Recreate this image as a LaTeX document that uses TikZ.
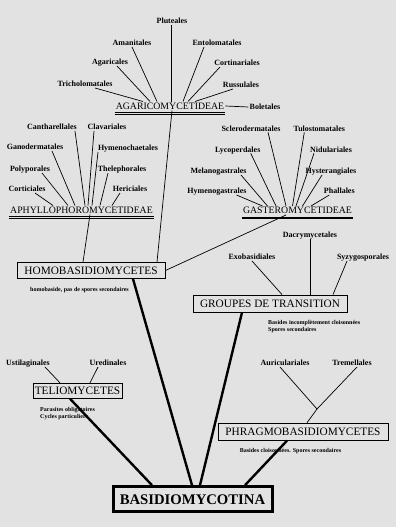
\documentclass[tikz,border=0pt]{standalone}
\usepackage{fontspec}
\setmainfont{Liberation Serif}
\definecolor{paper}{RGB}{226,226,226}
\tikzset{
  order/.style={font=\bfseries\fontsize{8}{9}\selectfont, inner sep=1pt, text height=5.6pt, text depth=0pt},
  subclass/.style={font=\fontsize{9.8}{11}\selectfont, inner sep=1pt, text height=6.6pt, text depth=0pt},
  classbox/.style={draw, line width=0.9pt, font=\fontsize{11.3}{13}\selectfont, inner sep=0pt},
  note/.style={font=\bfseries\fontsize{6}{6.8}\selectfont, align=left, inner sep=0pt},
  branch/.style={line width=0.7pt},
  trunk/.style={line width=2.4pt},
}
\newcommand\twinrule[1]{%
  \draw[line width=0.6pt] ([yshift=-1.8pt]#1.south west) -- ([yshift=-1.8pt]#1.south east);
  \draw[line width=0.6pt] ([yshift=-3.6pt]#1.south west) -- ([yshift=-3.6pt]#1.south east);}
\begin{document}
\begin{tikzpicture}[x=1pt,y=-1pt]
\fill[paper] (0,0) rectangle (396,527);
\useasboundingbox (0,0) rectangle (396,527);
% subclasses
\node[subclass] (agar) at (170,106) {AGARICOMYCETIDEAE};
\node[subclass] (aphy) at (81.5,210) {APHYLLOPHOROMYCETIDEAE};
\node[subclass] (gast) at (297.5,210.5) {GASTEROMYCETIDEAE};
\twinrule{agar}
\twinrule{aphy}
\twinrule{gast}
% classes
\node[classbox, minimum width=148, minimum height=16] (homo) at (91,270.5) {HOMOBASIDIOMYCETES};
\node[classbox, minimum width=154, minimum height=17] (groupes) at (270,303.5) {GROUPES DE TRANSITION};
\node[classbox, minimum width=89, minimum height=15] (telio) at (77.5,390.8) {TELIOMYCETES};
\node[classbox, minimum width=170, minimum height=17] (phrag) at (303,431.7) {PHRAGMOBASIDIOMYCETES};
\node[draw, line width=3pt, minimum width=159, minimum height=25, inner sep=0pt,
  font=\bfseries\fontsize{14.7}{16}\selectfont] (basid) at (192.5,499.2) {BASIDIOMYCOTINA};
% notes
\node[note, anchor=west] (homonote) at (30,290) {homobaside, pas de spores secondaires};
\node[note, anchor=north west] (groupesnote) at (268,320.5) {Basides incompl\`etement cloisonn\'ees\\Spores secondaires};
\node[note, anchor=north west] (telionote) at (40,407.5) {Parasites obligatoires\\Cycles particuliers};
\node[note] (phragnote) at (290.5,451) {Basides cloisonn\'ees. Spores secondaires};
% orders of the Agaricomycetideae
\foreach \name/\lx/\ly/\sx/\tx in {Tricholomatales/85/84/10/-27, Agaricales/110/62/7/-20,
    Amanitales/132/43/0/-13, Pluteales/172/21/-1/1, Entolomatales/217/43/-13/13,
    Cortinariales/237/63/-17/18, Russulales/241/85/-8/25} {
  \node[order] (\name) at (\lx,\ly) {\name};
  \draw[branch] ([xshift=\sx pt]\name.south) -- ([xshift=\tx pt]agar.north);
}
\node[order] (Boletales) at (265,107) {Boletales};
\draw[branch] (agar.east) -- (Boletales.west);
% orders of the Aphyllophoromycetideae
\foreach \name/\lx/\ly/\sx/\tx in {Corticiales/27/189/8/-28.5, Polyporales/30/169/12/-13.5,
    Ganodermatales/35/147/17/-6.5, Cantharellales/52/127/23/3.5, Clavariales/107/127/-13/6.5,
    Hymenochaetales/128/148/-30/10.5, Thelephorales/122/169/-14/18.5, Hericiales/130/189/-10/30.5} {
  \node[order] (\name) at (\lx,\ly) {\name};
  \draw[branch] ([xshift=\sx pt]\name.south) -- ([xshift=\tx pt]aphy.north);
}
% orders of the Gasteromycetideae
\foreach \name/\lx/\ly/\sx/\tx in {Hymenogastrales/217/191/19.5/-35, Melanogastrales/218.5/171/22.5/-30,
    Lycoperdales/237.7/149.3/13/-21.5, Sclerodermatales/251/128.3/17/-11.5,
    Tulostomatales/319.3/128.3/-15/-5, Nidulariales/331/149.3/-17/-1.5,
    Hysterangiales/331/171/-9/5, Phallales/339.3/191/-10/13.5} {
  \node[order] (\name) at (\lx,\ly) {\name};
  \draw[branch] ([xshift=\sx pt]\name.south) -- ([xshift=\tx pt]gast.north);
}
% subclasses to Homobasidiomycetes
\draw[branch] ([xshift=8.5pt]aphy.south) -- ([xshift=-8pt]homo.north);
\draw[branch] ([xshift=2pt]agar.south) -- ([xshift=66pt]homo.north);
\draw[branch] ([xshift=-11.5pt]gast.south) -- (homo.east);
% groupes de transition
\foreach \name/\lx/\ly/\sx/\tx in {Exobasidiales/252/257/0/12, Dacrymycetales/310/235/0/40,
    Syzygosporales/363/257/-16/63} {
  \node[order] (\name) at (\lx,\ly) {\name};
  \draw[branch] ([xshift=\sx pt]\name.south) -- ([xshift=\tx pt]groupes.north);
}
% teliomycetes
\foreach \name/\lx/\ly/\sx/\tx in {Ustilaginales/28/363/17/-17.5, Uredinales/108/363/-10/12.5} {
  \node[order] (\name) at (\lx,\ly) {\name};
  \draw[branch] ([xshift=\sx pt]\name.south) -- ([xshift=\tx pt]telio.north);
}
% phragmobasidiomycetes
\node[order] (Auriculariales) at (285,363) {Auriculariales};
\node[order] (Tremellales) at (352,363) {Tremellales};
\coordinate (fork) at (317,409);
\draw[branch] ([xshift=-5pt]Auriculariales.south) -- (fork);
\draw[branch] ([xshift=5pt]Tremellales.south) -- (fork);
\draw[branch] (fork) -- ([xshift=4pt]phrag.north);
% trunks
\draw[trunk] ([xshift=-7.5pt]telio.south) -- ([xshift=-40.5pt]basid.north);
\draw[trunk] ([xshift=42pt]homo.south) -- ([xshift=-0.5pt]basid.north);
\draw[trunk] ([xshift=-28pt]groupes.south) -- ([xshift=7.5pt]basid.north);
\draw[trunk] ([xshift=-16pt]phrag.south) -- ([xshift=52.5pt]basid.north);
\end{tikzpicture}
\end{document}
